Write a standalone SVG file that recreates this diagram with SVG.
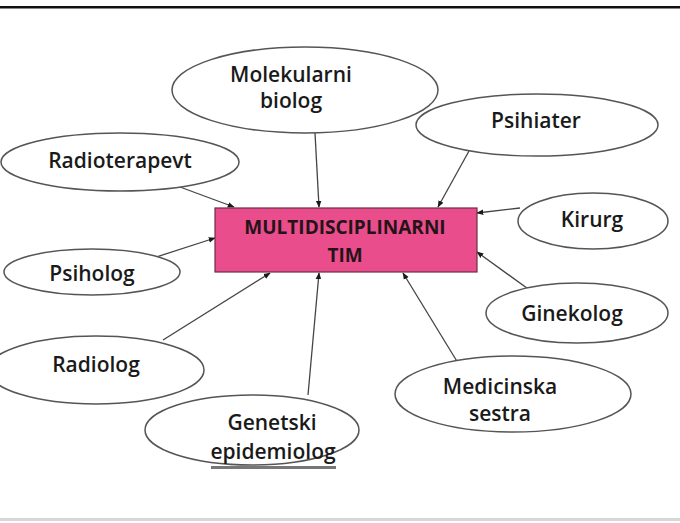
<svg xmlns="http://www.w3.org/2000/svg" width="680" height="523" viewBox="0 0 680 523">
<style>
.node ellipse{fill:#fff;stroke:#555;stroke-width:1.5}
.t{font-family:"Open Sans","DejaVu Sans",sans-serif;font-weight:600;font-size:21px;fill:#1a1a1a;text-anchor:middle}
.bt{font-family:"Open Sans","DejaVu Sans",sans-serif;font-weight:700;font-size:19px;fill:#241418;text-anchor:middle}
.conn line{stroke:#444;stroke-width:1.3;marker-end:url(#ah)}
</style>
<defs>
<marker id="ah" viewBox="0 0 10 10" refX="9" refY="5" markerWidth="7" markerHeight="7" markerUnits="userSpaceOnUse" orient="auto">
<path d="M0,1 L10,5 L0,9 z" fill="#1a1a1a"/>
</marker>
</defs>
<rect x="0" y="0" width="680" height="523" fill="#fff"/>
<rect x="0" y="6" width="680" height="2.5" fill="#111"/>
<rect x="0" y="518" width="680" height="3" fill="#d6d6d6"/>
<g class="conn">
<line x1="315" y1="133" x2="319" y2="207"/>
<line x1="469" y1="151" x2="438" y2="207"/>
<line x1="180" y1="187" x2="234" y2="207"/>
<line x1="147" y1="260" x2="215" y2="238"/>
<line x1="520" y1="208" x2="477" y2="213"/>
<line x1="531" y1="291" x2="477" y2="252"/>
<line x1="163" y1="340" x2="270" y2="273"/>
<line x1="308" y1="395" x2="319" y2="273"/>
<line x1="458" y1="363" x2="403" y2="273"/>
</g>
<g id="center">
<rect x="215" y="208" width="262" height="64" fill="#ea4d8c" stroke="#6b2f47" stroke-width="1.2"/>
<text class="bt" x="345" y="234">MULTIDISCIPLINARNI</text>
<text class="bt" x="345" y="262">TIM</text>
</g>
<g id="molekularni" class="node">
<ellipse cx="305" cy="90" rx="133" ry="43"/>
<text class="t" x="291" y="82">Molekularni</text>
<text class="t" x="291" y="108">biolog</text>
</g>
<g id="psihiater" class="node">
<ellipse cx="537" cy="125" rx="121" ry="31"/>
<text class="t" x="536" y="128">Psihiater</text>
</g>
<g id="radioterapevt" class="node">
<ellipse cx="120" cy="162" rx="119" ry="29"/>
<text class="t" x="120" y="168">Radioterapevt</text>
</g>
<g id="kirurg" class="node">
<ellipse cx="593" cy="221" rx="75" ry="28"/>
<text class="t" x="592" y="227">Kirurg</text>
</g>
<g id="psiholog" class="node">
<ellipse cx="92" cy="272" rx="88" ry="23"/>
<text class="t" x="92" y="281">Psiholog</text>
</g>
<g id="ginekolog" class="node">
<ellipse cx="577" cy="313" rx="91" ry="30"/>
<text class="t" x="572" y="321">Ginekolog</text>
</g>
<g id="radiolog" class="node">
<ellipse cx="96" cy="370" rx="108" ry="34"/>
<text class="t" x="96" y="372">Radiolog</text>
</g>
<g id="medicinska" class="node">
<ellipse cx="513" cy="394" rx="118" ry="38"/>
<text class="t" x="500" y="394">Medicinska</text>
<text class="t" x="500" y="421">sestra</text>
</g>
<g id="genetski" class="node">
<ellipse cx="252" cy="430" rx="107" ry="35"/>
<text class="t" x="272" y="430">Genetski</text>
<text class="t" x="273" y="459">epidemiolog</text>
<rect x="211" y="466" width="125" height="3" fill="#777"/>
</g>
</svg>
